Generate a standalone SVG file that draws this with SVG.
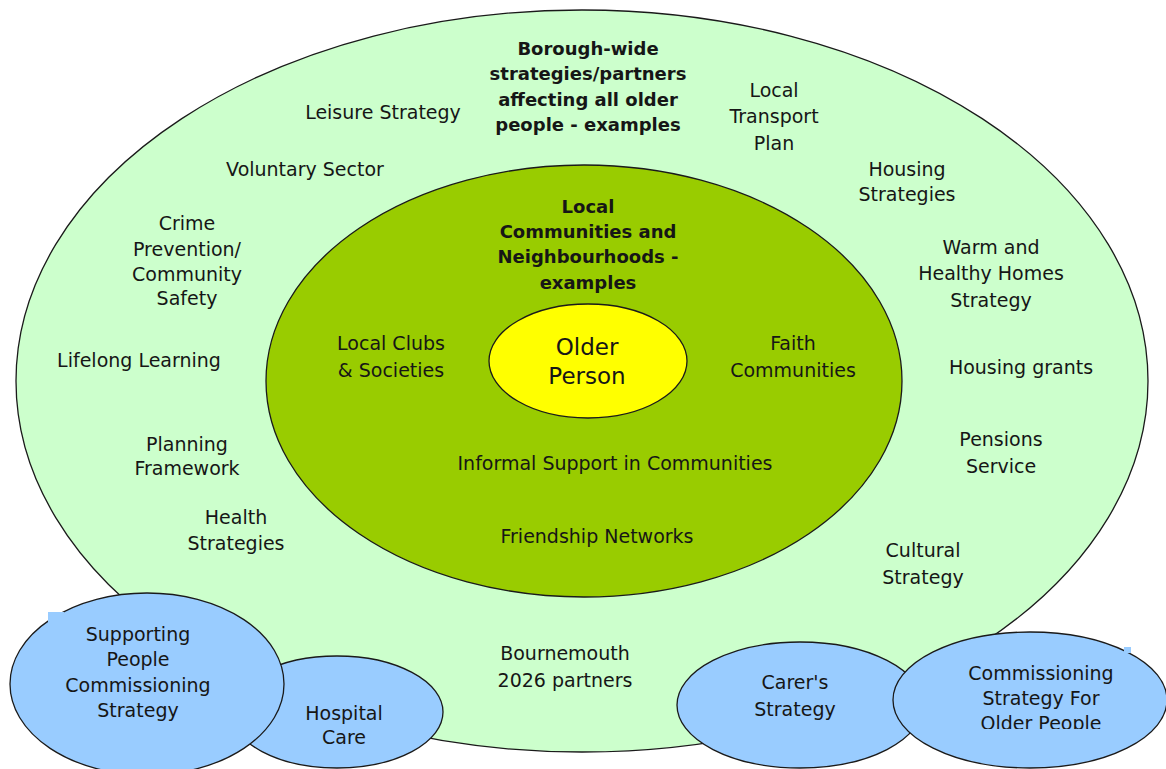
<svg xmlns="http://www.w3.org/2000/svg" width="1166" height="769" viewBox="0 0 1166 769">
<style>
text{font-family:"DejaVu Sans","Liberation Sans",sans-serif;font-size:19px;fill:#161616;text-anchor:middle}
.b{font-weight:bold;font-size:18px}
.big{font-size:23px}
.ring{stroke:#1a1a1a;stroke-width:1.3}
.blue{fill:#99ccff;stroke:#1a1a1a;stroke-width:1.3}
</style>
<defs>
<clipPath id="clipCom"><rect x="890" y="630" width="276" height="99"/></clipPath>
</defs>
<rect width="1166" height="769" fill="#ffffff"/>
<g id="outer">
<ellipse class="ring" cx="582" cy="381" rx="566" ry="371" fill="#ccffcc"/>
<text x="588" y="55" class="b">Borough-wide</text>
<text x="588" y="80" class="b">strategies/partners</text>
<text x="588" y="106" class="b">affecting all older</text>
<text x="588" y="131" class="b">people - examples</text>
<text x="383" y="119">Leisure Strategy</text>
<text x="305" y="176">Voluntary Sector</text>
<text x="774" y="97">Local</text>
<text x="774" y="123">Transport</text>
<text x="774" y="150">Plan</text>
<text x="907" y="176">Housing</text>
<text x="907" y="201">Strategies</text>
<text x="991" y="254">Warm and</text>
<text x="991" y="280">Healthy Homes</text>
<text x="991" y="307">Strategy</text>
<text x="187" y="230">Crime</text>
<text x="187" y="256">Prevention/</text>
<text x="187" y="281">Community</text>
<text x="187" y="305">Safety</text>
<text x="139" y="367">Lifelong Learning</text>
<text x="1021" y="374">Housing grants</text>
<text x="187" y="451">Planning</text>
<text x="187" y="475">Framework</text>
<text x="1001" y="446">Pensions</text>
<text x="1001" y="473">Service</text>
<text x="236" y="524">Health</text>
<text x="236" y="550">Strategies</text>
<text x="923" y="557">Cultural</text>
<text x="923" y="584">Strategy</text>
<text x="565" y="660">Bournemouth</text>
<text x="565" y="687">2026 partners</text>
</g>
<g id="middle">
<ellipse class="ring" cx="584" cy="381" rx="318" ry="216" fill="#99cc00"/>
<text x="588" y="213" class="b">Local</text>
<text x="588" y="238" class="b">Communities and</text>
<text x="588" y="263" class="b">Neighbourhoods -</text>
<text x="588" y="289" class="b">examples</text>
<text x="391" y="350">Local Clubs</text>
<text x="391" y="377">&amp; Societies</text>
<text x="793" y="350">Faith</text>
<text x="793" y="377">Communities</text>
<text x="615" y="470">Informal Support in Communities</text>
<text x="597" y="543">Friendship Networks</text>
</g>
<g id="older-person">
<ellipse class="ring" cx="588" cy="361" rx="99" ry="57" fill="#ffff00"/>
<text x="587" y="355" class="big">Older</text>
<text x="587" y="384" class="big">Person</text>
</g>
<g id="hospital-care">
<ellipse class="blue" cx="337" cy="712" rx="106" ry="56"/>
<text x="344" y="720">Hospital</text>
<text x="344" y="744">Care</text>
</g>
<g id="supporting-people">
<ellipse class="blue" cx="147" cy="684" rx="137" ry="91"/>
<rect x="48" y="612" width="16" height="10" fill="#99ccff"/>
<text x="138" y="641">Supporting</text>
<text x="138" y="666">People</text>
<text x="138" y="692">Commissioning</text>
<text x="138" y="717">Strategy</text>
</g>
<g id="carers-strategy">
<ellipse class="blue" cx="800" cy="705" rx="123" ry="63"/>
<text x="795" y="689">Carer's</text>
<text x="795" y="716">Strategy</text>
</g>
<g id="commissioning-strategy">
<ellipse class="blue" cx="1030" cy="700" rx="137" ry="68"/>
<rect x="1124" y="647" width="7" height="6" fill="#99ccff"/>
<g clip-path="url(#clipCom)">
<text x="1041" y="680">Commissioning</text>
<text x="1041" y="705">Strategy For</text>
<text x="1041" y="730">Older People</text>
</g>
</g>
<g id="connectors"/>
</svg>
